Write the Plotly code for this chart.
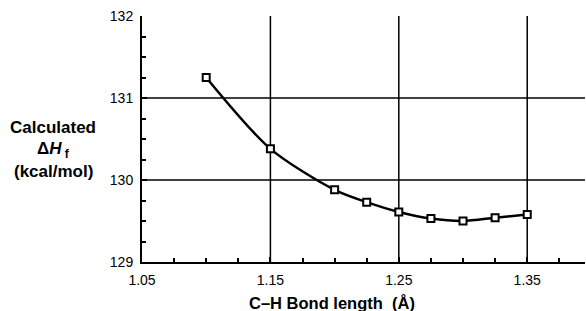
import plotly.graph_objects as go

bond_length = [1.10, 1.15, 1.20, 1.225, 1.25, 1.275, 1.30, 1.325, 1.35]
delta_hf = [131.25, 130.38, 129.88, 129.73, 129.61, 129.53, 129.50, 129.54, 129.58]

x_ticks = [1.05, 1.15, 1.25, 1.35]
x_ticklabels = ["1.05", "1.15", "1.25", "1.35"]
y_ticks = [129, 130, 131, 132]
y_ticklabels = ["129", "130", "131", "132"]
x_grid = [1.15, 1.25, 1.35]
y_grid = [130, 131]

fig = go.Figure()
fig.add_trace(go.Scatter(
    x=bond_length, y=delta_hf, mode="lines+markers",
    line=dict(color="black", width=2.5, shape="spline", smoothing=0.8),
    marker=dict(symbol="square", size=7, color="white", line=dict(color="black", width=2)),
    showlegend=False, cliponaxis=False,
))

shapes = []
for gx in x_grid:
    shapes.append(dict(type="line", xref="x", yref="y", x0=gx, x1=gx, y0=129, y1=132,
                       line=dict(color="black", width=1.5, dash="solid"), layer="below"))
for gy in y_grid:
    shapes.append(dict(type="line", xref="paper", yref="y", x0=0, x1=1, y0=gy, y1=gy,
                       line=dict(color="black", width=1.5, dash="solid"), layer="below"))

font = dict(family="Liberation Sans, Arial, sans-serif", color="black")

fig.update_layout(
    width=586, height=311,
    margin=dict(l=142, r=1, t=16, b=49, autoexpand=False),
    plot_bgcolor="white", paper_bgcolor="white",
    shapes=shapes,
    font=dict(family="Liberation Sans, Arial, sans-serif", size=12, color="black"),
    xaxis=dict(range=[1.05, 1.395], tickvals=x_ticks, ticktext=x_ticklabels,
               showgrid=False, zeroline=False, showline=True, linecolor="black", linewidth=2,
               ticks="inside", ticklen=5, tickwidth=2, tickcolor="black", automargin=False,
               tickfont=dict(size=14, **font), ticklabelstandoff=4,
               minor=dict(dtick=0.025, tick0=1.05, ticks="inside", ticklen=4, tickwidth=1.5, tickcolor="black", showgrid=False)),
    yaxis=dict(range=[129, 132], tickvals=y_ticks, ticktext=y_ticklabels,
               showgrid=False, zeroline=False, showline=True, linecolor="black", linewidth=2,
               ticks="inside", ticklen=5, tickwidth=2, tickcolor="black", automargin=False,
               tickfont=dict(size=14, **font), ticklabelstandoff=4,
               minor=dict(dtick=0.25, tick0=129, ticks="inside", ticklen=4, tickwidth=1.5, tickcolor="black", showgrid=False)),
    annotations=[
        dict(text="<b>Calculated</b>", xref="paper", yref="paper", x=-0.2,
             y=0.0, yshift=(262 - 127), xanchor="center", yanchor="middle",
             showarrow=False, font=dict(size=17, **font)),
        dict(text="<b>Δ<i>H</i><sub> f</sub></b>", xref="paper", yref="paper", x=-0.2,
             y=0.0, yshift=(262 - 150), xanchor="center", yanchor="middle",
             showarrow=False, font=dict(size=17, **font)),
        dict(text="<b>(kcal/mol)</b>", xref="paper", yref="paper", x=-0.2,
             y=0.0, yshift=(262 - 171), xanchor="center", yanchor="middle",
             showarrow=False, font=dict(size=17, **font)),
        dict(text="<b>C–H Bond length  (Å)</b>", xref="paper", yref="paper",
             x=0.43, y=0.0, yshift=-(303 - 262), xanchor="center", yanchor="middle",
             showarrow=False, font=dict(size=16.5, **font)),
    ],
)

fig.write_html("out.html", config={"displayModeBar": False},
               post_script="document.body.style.margin='0';document.documentElement.style.margin='0';")
